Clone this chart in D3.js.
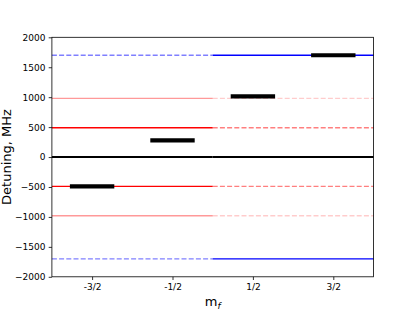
<!DOCTYPE html>
<html>
<head>
<meta charset="utf-8">
<script src="https://cdn.jsdelivr.net/npm/d3@7"></script>
<style>
  html, body { margin: 0; padding: 0; background: #fff; }
  svg { display: block; font-family: "DejaVu Sans", sans-serif; }
</style>
</head>
<body>
<svg id="chart" width="415" height="311"></svg>
<script>
// --- data ---
const mfTicks = [-1.5, -0.5, 0.5, 1.5];
const mfTickLabels = ['-3/2', '-1/2', '1/2', '3/2'];
const yTicks = [2000, 1500, 1000, 500, 0, -500, -1000, -1500, -2000];

// detuning levels (MHz): left half (m<0) and right half (m>0)
const levelValues = [1700, 980, 490, 0, -490, -980, -1700];
const levelKinds = ['blue', 'pink', 'red', 'zero', 'red', 'pink', 'blue'];

// black bars: one per m_f
const barMf = [-1.5, -0.5, 0.5, 1.5];
const barDetuning = [-490, 280, 1015, 1700];
const barHalfWidth = 0.25;

(function() {
  const svg = d3.select('#chart'),
    margin = {top: 37.3, right: 41.5, bottom: 34.2, left: 51.9},
    width = +svg.attr('width') - margin.left - margin.right,
    height = +svg.attr('height') - margin.top - margin.bottom;
  const g = svg.append('g').attr('transform', `translate(${margin.left},${margin.top})`);

  const x = d3.scaleLinear().domain([-2, 2]).range([0, width]);
  const y = d3.scaleLinear().domain([-2000, 2000]).range([height, 0]);

  // line styles for each kind, [left half, right half]
  const styles = {
    blue: [{c: '#0000ff', a: 0.5, dash: '5,2.2'}, {c: '#0000ff', a: 1, dash: null}],
    red:  [{c: '#ff0000', a: 1, dash: null}, {c: '#ff0000', a: 0.5, dash: '5,2.2'}],
    pink: [{c: '#ff0000', a: 0.4, dash: null}, {c: '#ff0000', a: 0.2, dash: '5,2.2'}],
    zero: [{c: '#000000', a: 1, dash: null, w: 2}, {c: '#000000', a: 1, dash: null, w: 2}]
  };

  const segs = [];
  levelValues.forEach((v, i) => {
    const st = styles[levelKinds[i]];
    segs.push({x0: -2, x1: 0, v, s: st[0]});
    segs.push({x0: 0, x1: 2, v, s: st[1]});
  });

  g.append('g').selectAll('line')
    .data(segs)
    .enter().append('line')
    .attr('x1', d => x(d.x0))
    .attr('x2', d => x(d.x1))
    .attr('y1', d => y(d.v))
    .attr('y2', d => y(d.v))
    .attr('stroke', d => d.s.c)
    .attr('stroke-opacity', d => d.s.a)
    .attr('stroke-width', d => d.s.w || 1.4)
    .attr('stroke-dasharray', d => d.s.dash);

  // thick black bars
  g.append('g').selectAll('line')
    .data(barMf.map((m, i) => ({m, v: barDetuning[i]})))
    .enter().append('line')
    .attr('x1', d => x(d.m - barHalfWidth))
    .attr('x2', d => x(d.m + barHalfWidth))
    .attr('y1', d => y(d.v))
    .attr('y2', d => y(d.v))
    .attr('stroke', '#000')
    .attr('stroke-width', 4.2)
    .attr('stroke-linecap', 'square');

  // axes
  const xAxis = g.append('g').attr('transform', `translate(0,${height})`)
    .call(d3.axisBottom(x).tickValues(mfTicks).tickFormat((d, i) => mfTickLabels[i])
      .tickSize(3.2).tickPadding(3.2));
  const yAxis = g.append('g')
    .call(d3.axisLeft(y).tickValues(yTicks).tickFormat(d => d < 0 ? '\u2212' + Math.abs(d) : d)
      .tickSize(3.2).tickPadding(3.2));
  [xAxis, yAxis].forEach(a => {
    a.select('.domain').remove();
    a.selectAll('text').attr('font-size', 9).attr('font-family', 'DejaVu Sans').attr('fill', '#000');
    a.selectAll('line').attr('stroke', '#000').attr('stroke-width', 0.8);
  });

  // frame
  g.append('rect')
    .attr('x', 0).attr('y', 0).attr('width', width).attr('height', height)
    .attr('fill', 'none').attr('stroke', '#000').attr('stroke-width', 0.8);

  // axis labels
  svg.append('text')
    .attr('transform', `translate(10.5,${margin.top + height / 2}) rotate(-90)`)
    .attr('text-anchor', 'middle')
    .attr('font-size', 13)
    .attr('fill', '#000')
    .text('Detuning, MHz');

  const xl = svg.append('text')
    .attr('x', margin.left + width / 2)
    .attr('y', 306)
    .attr('text-anchor', 'middle')
    .attr('font-size', 13)
    .attr('fill', '#000');
  xl.append('tspan').text('m');
  xl.append('tspan').attr('dy', 2.5).attr('font-size', 9).attr('font-style', 'italic').text('f');
})();
</script>
</body>
</html>
